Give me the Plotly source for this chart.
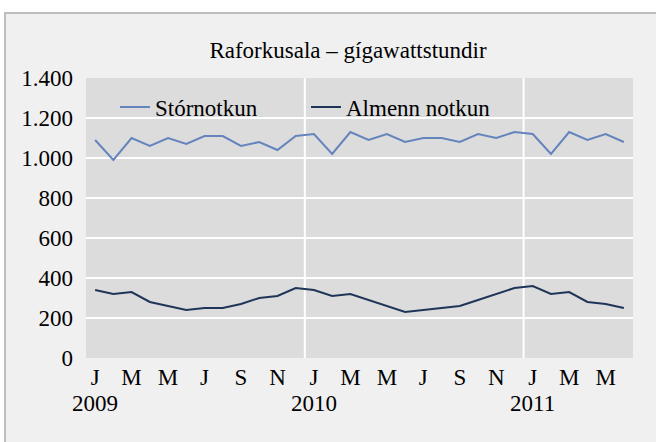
import plotly.graph_objects as go

months = ["J", "F", "M", "A", "M", "J", "J", "Á", "S", "O", "N", "D"] * 2 + ["J", "F", "M", "A", "M", "J"]
years = ["2009", "2010", "2011"]
stornotkun = [1090, 990, 1100, 1060, 1100, 1070, 1110, 1110, 1060, 1080, 1040, 1110,
              1120, 1020, 1130, 1090, 1120, 1080, 1100, 1100, 1080, 1120, 1100, 1130,
              1120, 1020, 1130, 1090, 1120, 1080]
almenn = [340, 320, 330, 280, 260, 240, 250, 250, 270, 300, 310, 350,
          340, 310, 320, 290, 260, 230, 240, 250, 260, 290, 320, 350,
          360, 320, 330, 280, 270, 250]
series_names = ["Stórnotkun", "Almenn notkun"]
title_text = "Raforkusala – gígawattstundir"

idx = list(range(len(months)))
tickvals = idx[::2]
ticktext = [months[i] for i in tickvals]
year_pos = [i for i in idx if i % 12 == 0]
year_bounds = [i - 0.5 for i in idx if i % 12 == 0 and i > 0]

FONT = "Liberation Serif, Times New Roman, serif"
FS = 23

fig = go.Figure()
fig.add_trace(go.Scatter(x=idx, y=stornotkun, mode="lines", name=series_names[0],
                         line=dict(color="#6584bd", width=2)))
fig.add_trace(go.Scatter(x=idx, y=almenn, mode="lines", name=series_names[1],
                         line=dict(color="#1f3558", width=2)))

L, R, T, B = 86, 23, 78, 84
W, H = 656, 442
pw, ph = W - L - R, H - T - B

def px2x(px):
    return (px - L) / pw

def py2y(py):
    return (H - B - py) / ph

shapes = [
    # white strip on top and left of the panel
    dict(type="rect", xref="paper", yref="paper", layer="below",
         x0=px2x(-5), x1=px2x(W + 5), y0=py2y(12), y1=py2y(-5),
         fillcolor="white", line=dict(width=0)),
    dict(type="rect", xref="paper", yref="paper", layer="below",
         x0=px2x(-5), x1=px2x(4), y0=py2y(H + 5), y1=py2y(-5),
         fillcolor="white", line=dict(width=0)),
    # panel border lines
    dict(type="line", xref="paper", yref="paper", layer="below",
         x0=px2x(4), x1=px2x(W + 5), y0=py2y(13), y1=py2y(13),
         line=dict(color="#bdbdbd", width=2)),
    dict(type="line", xref="paper", yref="paper", layer="below",
         x0=px2x(5), x1=px2x(5), y0=py2y(12), y1=py2y(H + 5),
         line=dict(color="#bdbdbd", width=2)),
]
for b in year_bounds:
    shapes.append(dict(type="line", xref="x", yref="paper", x0=b, x1=b, y0=0, y1=1,
                       line=dict(color="white", width=2), layer="below"))

annotations = []
for yp, yl in zip(year_pos, years):
    annotations.append(dict(x=yp, y=py2y(403), xref="x", yref="paper", text=yl,
                            showarrow=False, xanchor="center", yanchor="middle",
                            font=dict(family=FONT, size=FS, color="black")))

fig.update_layout(
    width=W, height=H,
    margin=dict(l=L, r=R, t=T, b=B),
    paper_bgcolor="#f0f0f0",
    plot_bgcolor="#dcdcdc",
    separators=",.",
    font=dict(family=FONT, size=FS, color="black"),
    title=dict(text=title_text, x=348 / W, xref="container", xanchor="center",
               y=1 - 50 / H, yref="container", yanchor="middle",
               font=dict(family=FONT, size=FS, color="black")),
    showlegend=True,
    legend=dict(orientation="h", x=px2x(115), y=py2y(107), xanchor="left", yanchor="middle",
                bgcolor="rgba(0,0,0,0)", font=dict(family=FONT, size=FS, color="black"),
                entrywidth=146, entrywidthmode="pixels", traceorder="normal"),
    xaxis=dict(range=[-0.5, len(months) - 0.5], tickmode="array", tickvals=tickvals,
               ticktext=ticktext, showgrid=False, zeroline=False, showline=False,
               ticks="", ticklabelstandoff=3, tickfont=dict(family=FONT, size=FS, color="black")),
    yaxis=dict(range=[0, 1400], dtick=200, tickformat=",d", showgrid=True,
               gridcolor="white", gridwidth=2, zeroline=False, showline=False,
               ticks="", ticklabelstandoff=12, tickfont=dict(family=FONT, size=FS, color="black")),
    shapes=shapes,
    annotations=annotations,
)

fig.write_html("out.html", config={"displayModeBar": False},
               post_script="document.body.style.margin='0';document.body.style.overflow='hidden';")
